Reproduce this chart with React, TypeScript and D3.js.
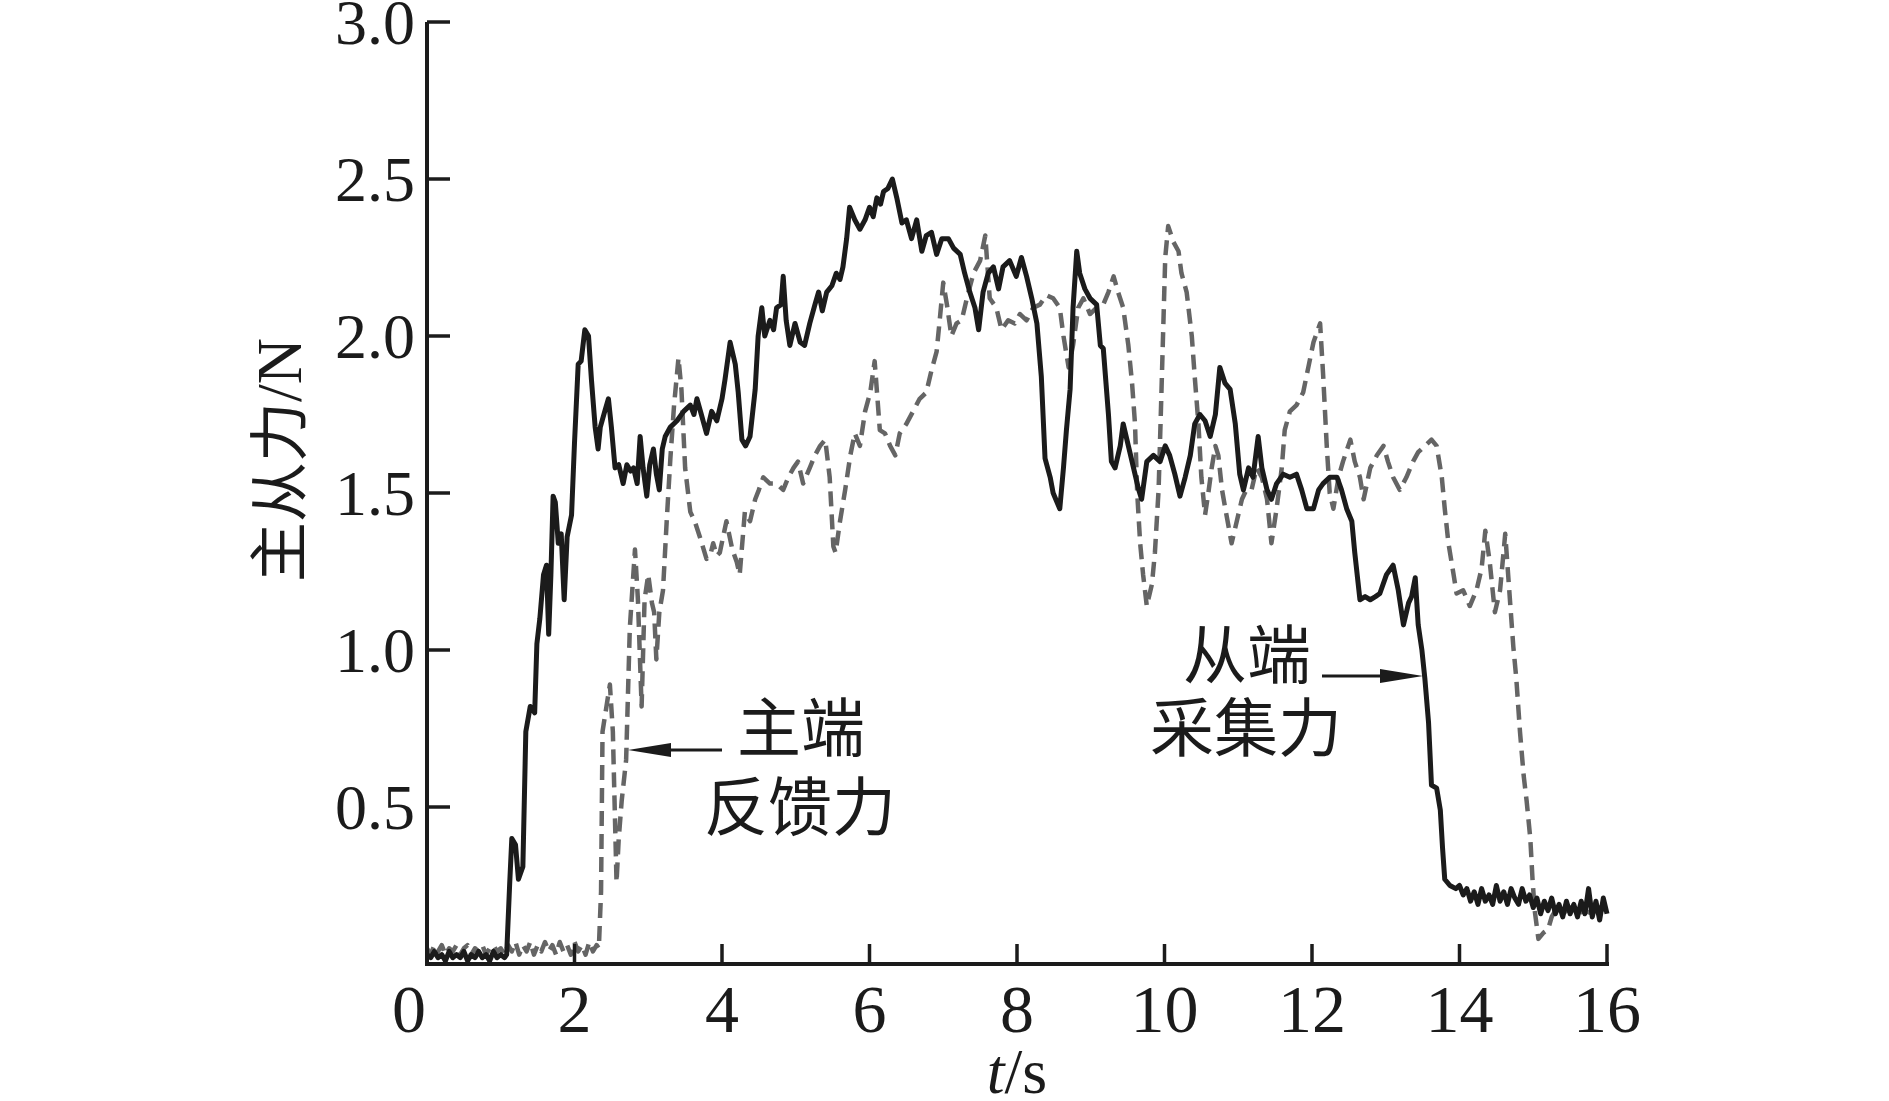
import React from "react";
import * as d3 from "d3";

// ---- data ----
const xTicks = [0, 2, 4, 6, 8, 10, 12, 14, 16];
const yTicks = [0.5, 1.0, 1.5, 2.0, 2.5, 3.0];
const yTickLabels = ["0.5", "1.0", "1.5", "2.0", "2.5", "3.0"];
const xTitle = ["t", "/s"];
const yTitle = ["主从力", "/N"];
const masterLabel = ["主端", "反馈力"];
const slaveLabel = ["从端", "采集力"];

// 从端采集力 (solid black): [t (s), force (N)]
const slaveForce: [number, number][] = [
  [0, 0.03], [0.05, 0.02], [0.1, 0.04], [0.15, 0.02], [0.2, 0.03], [0.25, 0.01], [0.3, 0.04], [0.35, 0.02],
  [0.4, 0.03], [0.45, 0.02], [0.5, 0.04], [0.55, 0.01], [0.6, 0.03], [0.65, 0.02], [0.7, 0.04], [0.75, 0.02],
  [0.8, 0.03], [0.85, 0.01], [0.9, 0.04], [0.95, 0.02], [1.0, 0.03], [1.05, 0.02], [1.08, 0.03],
  [1.12, 0.25], [1.15, 0.4], [1.2, 0.38], [1.24, 0.27], [1.3, 0.31], [1.34, 0.74], [1.4, 0.82], [1.46, 0.8],
  [1.49, 1.02], [1.53, 1.1], [1.58, 1.24], [1.62, 1.27], [1.65, 1.05], [1.68, 1.24], [1.71, 1.49], [1.74, 1.47],
  [1.78, 1.34], [1.82, 1.37], [1.86, 1.16], [1.9, 1.36], [1.96, 1.43], [2.0, 1.66], [2.05, 1.91], [2.09, 1.92],
  [2.14, 2.02], [2.19, 2.0], [2.23, 1.86], [2.28, 1.71], [2.32, 1.64], [2.35, 1.71], [2.41, 1.76], [2.46, 1.8],
  [2.5, 1.71], [2.55, 1.58], [2.6, 1.59], [2.66, 1.53], [2.71, 1.59], [2.76, 1.57], [2.8, 1.58], [2.85, 1.53],
  [2.89, 1.68], [2.93, 1.58], [2.98, 1.49], [3.02, 1.59], [3.07, 1.64], [3.11, 1.56], [3.15, 1.51], [3.19, 1.64],
  [3.23, 1.68], [3.3, 1.71], [3.39, 1.73], [3.48, 1.76], [3.57, 1.78], [3.62, 1.75], [3.66, 1.8], [3.72, 1.75],
  [3.79, 1.69], [3.86, 1.76], [3.93, 1.73], [4.0, 1.8], [4.04, 1.86], [4.11, 1.98], [4.18, 1.91], [4.22, 1.82],
  [4.27, 1.67], [4.32, 1.65], [4.38, 1.68], [4.45, 1.83], [4.49, 2.0], [4.54, 2.09], [4.58, 2.0], [4.65, 2.05],
  [4.7, 2.02], [4.74, 2.09], [4.8, 2.1], [4.83, 2.19], [4.87, 2.05], [4.92, 1.97], [4.99, 2.04], [5.06, 1.98],
  [5.12, 1.97], [5.19, 2.04], [5.26, 2.1], [5.31, 2.14], [5.36, 2.08], [5.42, 2.14], [5.49, 2.16], [5.55, 2.2],
  [5.6, 2.18], [5.64, 2.22], [5.69, 2.31], [5.73, 2.41], [5.8, 2.37], [5.87, 2.34], [5.94, 2.37], [6.0, 2.41],
  [6.05, 2.38], [6.1, 2.44], [6.15, 2.42], [6.19, 2.46], [6.25, 2.47], [6.31, 2.5], [6.37, 2.44], [6.44, 2.36],
  [6.5, 2.37], [6.57, 2.31], [6.64, 2.37], [6.71, 2.27], [6.77, 2.32], [6.84, 2.33], [6.91, 2.26], [6.98, 2.31],
  [7.07, 2.31], [7.14, 2.28], [7.23, 2.26], [7.29, 2.2], [7.36, 2.14], [7.43, 2.09], [7.48, 2.02], [7.54, 2.14],
  [7.61, 2.2], [7.68, 2.22], [7.75, 2.15], [7.81, 2.22], [7.9, 2.24], [7.99, 2.19], [8.06, 2.25], [8.13, 2.19],
  [8.2, 2.12], [8.27, 2.04], [8.33, 1.87], [8.38, 1.61], [8.45, 1.55], [8.49, 1.5], [8.58, 1.45], [8.63, 1.58],
  [8.67, 1.7], [8.72, 1.83], [8.76, 2.09], [8.81, 2.27], [8.85, 2.2], [8.92, 2.15], [8.99, 2.12], [9.08, 2.1],
  [9.13, 1.97], [9.17, 1.96], [9.24, 1.75], [9.28, 1.6], [9.33, 1.58], [9.4, 1.65], [9.44, 1.72], [9.51, 1.65],
  [9.58, 1.58], [9.65, 1.51], [9.69, 1.48], [9.76, 1.6], [9.85, 1.62], [9.94, 1.6], [10.01, 1.65], [10.07, 1.62],
  [10.14, 1.56], [10.21, 1.49], [10.28, 1.55], [10.35, 1.62], [10.41, 1.72], [10.48, 1.75], [10.55, 1.73],
  [10.62, 1.68], [10.69, 1.75], [10.75, 1.9], [10.82, 1.85], [10.89, 1.83], [10.96, 1.72], [11.02, 1.56],
  [11.07, 1.51], [11.14, 1.58], [11.2, 1.55], [11.27, 1.68], [11.32, 1.58], [11.39, 1.51], [11.45, 1.48],
  [11.52, 1.53], [11.61, 1.56], [11.7, 1.55], [11.79, 1.56], [11.86, 1.51], [11.93, 1.45], [12.02, 1.45],
  [12.09, 1.51], [12.15, 1.53], [12.24, 1.55], [12.34, 1.55], [12.4, 1.51], [12.47, 1.45], [12.54, 1.41],
  [12.58, 1.31], [12.65, 1.16], [12.72, 1.17], [12.79, 1.16], [12.86, 1.17], [12.92, 1.18], [13.01, 1.24],
  [13.1, 1.27], [13.17, 1.19], [13.24, 1.08], [13.31, 1.15], [13.35, 1.17], [13.4, 1.23], [13.44, 1.08],
  [13.49, 1.0], [13.53, 0.91], [13.58, 0.77], [13.62, 0.57], [13.69, 0.56], [13.74, 0.49], [13.77, 0.37],
  [13.8, 0.27], [13.87, 0.25], [13.95, 0.24], [14.0, 0.25], [14.05, 0.22], [14.1, 0.24], [14.15, 0.2],
  [14.2, 0.23], [14.25, 0.19], [14.3, 0.24], [14.35, 0.2], [14.4, 0.22], [14.45, 0.19], [14.5, 0.25],
  [14.55, 0.2], [14.6, 0.23], [14.65, 0.19], [14.7, 0.24], [14.75, 0.21], [14.8, 0.19], [14.85, 0.24],
  [14.9, 0.2], [14.95, 0.22], [15.0, 0.18], [15.05, 0.21], [15.1, 0.16], [15.15, 0.2], [15.2, 0.17],
  [15.25, 0.21], [15.3, 0.16], [15.35, 0.19], [15.4, 0.15], [15.45, 0.2], [15.5, 0.16], [15.55, 0.19],
  [15.6, 0.15], [15.65, 0.2], [15.7, 0.16], [15.75, 0.24], [15.8, 0.15], [15.85, 0.2], [15.9, 0.14],
  [15.95, 0.21], [16.0, 0.16],
];

// 主端反馈力 (dashed grey): [t (s), force (N)]
const masterForce: [number, number][] = [
  [0, 0.05], [0.05, 0.03], [0.1, 0.06], [0.15, 0.04], [0.2, 0.06], [0.25, 0.03], [0.3, 0.05], [0.35, 0.04],
  [0.4, 0.06], [0.45, 0.03], [0.5, 0.05], [0.55, 0.06], [0.6, 0.03], [0.65, 0.05], [0.7, 0.04], [0.75, 0.06],
  [0.8, 0.03], [0.85, 0.05], [0.9, 0.06], [0.95, 0.04], [1.0, 0.05], [1.05, 0.03], [1.1, 0.06], [1.15, 0.04],
  [1.2, 0.07], [1.25, 0.03], [1.3, 0.06], [1.35, 0.04], [1.4, 0.07], [1.45, 0.03], [1.5, 0.06], [1.55, 0.04],
  [1.6, 0.07], [1.65, 0.04], [1.7, 0.06], [1.75, 0.03], [1.8, 0.07], [1.85, 0.04], [1.9, 0.06], [1.95, 0.03],
  [2.0, 0.07], [2.05, 0.04], [2.1, 0.06], [2.15, 0.03], [2.2, 0.07], [2.25, 0.04], [2.3, 0.06], [2.33, 0.05],
  [2.36, 0.23], [2.38, 0.74], [2.42, 0.8], [2.48, 0.89], [2.52, 0.74], [2.57, 0.26], [2.6, 0.4], [2.64, 0.52],
  [2.7, 0.65], [2.75, 1.07], [2.82, 1.32], [2.86, 1.16], [2.91, 0.82], [2.95, 1.16], [3.0, 1.24], [3.05, 1.15],
  [3.08, 1.12], [3.11, 0.97], [3.15, 1.12], [3.2, 1.19], [3.25, 1.41], [3.3, 1.61], [3.35, 1.78], [3.41, 1.93],
  [3.45, 1.83], [3.5, 1.58], [3.57, 1.44], [3.63, 1.41], [3.7, 1.36], [3.79, 1.29], [3.84, 1.3], [3.88, 1.34],
  [3.93, 1.3], [3.97, 1.31], [4.06, 1.41], [4.14, 1.32], [4.2, 1.28], [4.24, 1.24], [4.31, 1.44], [4.38, 1.41],
  [4.45, 1.48], [4.5, 1.51], [4.56, 1.55], [4.65, 1.53], [4.74, 1.53], [4.83, 1.51], [4.9, 1.55], [4.97, 1.58],
  [5.03, 1.6], [5.1, 1.53], [5.19, 1.58], [5.26, 1.62], [5.33, 1.65], [5.4, 1.67], [5.46, 1.55], [5.51, 1.33],
  [5.54, 1.31], [5.6, 1.41], [5.67, 1.51], [5.74, 1.62], [5.8, 1.69], [5.87, 1.65], [5.94, 1.76], [6.01, 1.82],
  [6.07, 1.92], [6.14, 1.7], [6.21, 1.69], [6.28, 1.65], [6.35, 1.62], [6.41, 1.69], [6.5, 1.72], [6.59, 1.76],
  [6.68, 1.8], [6.77, 1.82], [6.84, 1.89], [6.91, 1.95], [6.96, 2.07], [7.0, 2.17], [7.05, 2.1], [7.11, 2.0],
  [7.18, 2.04], [7.25, 2.05], [7.32, 2.12], [7.41, 2.2], [7.5, 2.24], [7.57, 2.32], [7.63, 2.12], [7.72, 2.09],
  [7.79, 2.02], [7.88, 2.05], [7.97, 2.04], [8.04, 2.07], [8.13, 2.05], [8.22, 2.09], [8.31, 2.1], [8.4, 2.13],
  [8.49, 2.12], [8.58, 2.09], [8.63, 2.0], [8.7, 1.9], [8.76, 1.97], [8.83, 2.09], [8.9, 2.12], [8.99, 2.07],
  [9.08, 2.09], [9.17, 2.1], [9.24, 2.14], [9.31, 2.19], [9.37, 2.14], [9.44, 2.09], [9.51, 1.97], [9.56, 1.85],
  [9.6, 1.72], [9.63, 1.5], [9.67, 1.34], [9.71, 1.24], [9.76, 1.14], [9.83, 1.21], [9.87, 1.31], [9.92, 1.51],
  [9.95, 1.75], [9.98, 2.0], [10.01, 2.25], [10.05, 2.35], [10.12, 2.3], [10.19, 2.27], [10.23, 2.2],
  [10.3, 2.14], [10.37, 2.0], [10.41, 1.87], [10.46, 1.72], [10.5, 1.55], [10.55, 1.43], [10.6, 1.51],
  [10.64, 1.58], [10.69, 1.65], [10.73, 1.62], [10.78, 1.51], [10.84, 1.43], [10.91, 1.34], [10.98, 1.41],
  [11.05, 1.48], [11.11, 1.51], [11.18, 1.51], [11.25, 1.58], [11.32, 1.55], [11.39, 1.48], [11.45, 1.34],
  [11.52, 1.45], [11.59, 1.58], [11.63, 1.7], [11.7, 1.76], [11.79, 1.78], [11.88, 1.82], [11.95, 1.9],
  [12.02, 1.98], [12.11, 2.04], [12.15, 1.88], [12.2, 1.65], [12.24, 1.5], [12.29, 1.45], [12.36, 1.55],
  [12.42, 1.6], [12.52, 1.67], [12.58, 1.6], [12.65, 1.55], [12.7, 1.48], [12.79, 1.58], [12.88, 1.62],
  [12.97, 1.65], [13.03, 1.6], [13.1, 1.55], [13.19, 1.51], [13.28, 1.55], [13.37, 1.6], [13.44, 1.63],
  [13.53, 1.65], [13.62, 1.67], [13.69, 1.65], [13.76, 1.55], [13.8, 1.45], [13.85, 1.34], [13.92, 1.24],
  [13.96, 1.18], [14.05, 1.19], [14.14, 1.14], [14.23, 1.19], [14.3, 1.26], [14.35, 1.38], [14.41, 1.28],
  [14.48, 1.12], [14.55, 1.19], [14.62, 1.37], [14.69, 1.14], [14.73, 1.01], [14.77, 0.91], [14.82, 0.74],
  [14.87, 0.6], [14.91, 0.52], [14.96, 0.4], [14.99, 0.27], [15.02, 0.17], [15.07, 0.08], [15.14, 0.1],
  [15.2, 0.11], [15.25, 0.15], [15.3, 0.17], [15.4, 0.16], [15.5, 0.18], [15.6, 0.16], [15.7, 0.17],
  [15.8, 0.16], [15.9, 0.18], [16.0, 0.17],
];

// ---- layout ----
const W = 1889;
const H = 1101;
const X0 = 427, X1 = 1607, Y0 = 964, Y1 = 22;
const serif = "'Liberation Serif', 'Times New Roman', serif";
const cjk = "'Noto Sans CJK SC', sans-serif";

export default function App() {
  const x = d3.scaleLinear().domain([0, 16]).range([X0, X1]);
  const y = d3.scaleLinear().domain([0, 3]).range([Y0, Y1]);
  const line = d3
    .line<[number, number]>()
    .x((d) => x(d[0]))
    .y((d) => y(d[1]));

  return (
    <svg
      width={W}
      height={H}
      viewBox={`0 0 ${W} ${H}`}
      style={{ position: "absolute", left: 0, top: 0, background: "#fff" }}
    >
      <rect x={0} y={0} width={W} height={H} fill="#fff" />
      {/* series */}
      <path
        d={line(masterForce) || ""}
        fill="none"
        stroke="#656565"
        strokeWidth={4.5}
        strokeDasharray="15,8"
        strokeLinejoin="round"
      />
      <path
        d={line(slaveForce) || ""}
        fill="none"
        stroke="#1b1b1b"
        strokeWidth={5}
        strokeLinejoin="round"
      />

      {/* axes */}
      <line x1={X0} y1={y(3)} x2={X0} y2={Y0 + 2} stroke="#1b1b1b" strokeWidth={4} />
      <line x1={X0 - 2} y1={Y0} x2={X1 + 2} y2={Y0} stroke="#1b1b1b" strokeWidth={4} />
      {yTicks.map((v, i) => (
        <g key={"yt" + v}>
          <line x1={X0} x2={X0 + 23} y1={y(v)} y2={y(v)} stroke="#1b1b1b" strokeWidth={3.5} />
          <text
            x={X0 - 12}
            y={y(v) + 22}
            textAnchor="end"
            fontFamily={serif}
            fontSize={64}
            fill="#1b1b1b"
          >
            {yTickLabels[i]}
          </text>
        </g>
      ))}
      {xTicks.map((v, i) => (
        <g key={"xt" + v}>
          {v > 0 && (
            <line x1={x(v)} x2={x(v)} y1={Y0} y2={Y0 - 20} stroke="#1b1b1b" strokeWidth={3.5} />
          )}
          <text
            x={x(v) + (i === 0 ? -18 : 0)}
            y={1032}
            textAnchor="middle"
            fontFamily={serif}
            fontSize={68}
            fill="#1b1b1b"
          >
            {v}
          </text>
        </g>
      ))}

      {/* axis titles */}
      <text x={1017} y={1093} textAnchor="middle" fontFamily={serif} fontSize={64} fill="#1b1b1b">
        <tspan fontStyle="italic">{xTitle[0]}</tspan>
        <tspan>{xTitle[1]}</tspan>
      </text>
      <text
        transform="translate(301,460) rotate(-90)"
        textAnchor="middle"
        fontSize={60}
        fill="#1b1b1b"
      >
        <tspan fontFamily={cjk}>{yTitle[0]}</tspan>
        <tspan fontFamily={serif} fontSize={64}>{yTitle[1]}</tspan>
      </text>

      {/* annotations */}
      <g fontFamily={cjk} fontSize={64} fill="#1b1b1b" textAnchor="middle">
        <text x={801} y={723} dominantBaseline="central">{masterLabel[0]}</text>
        <text x={800} y={802} dominantBaseline="central">{masterLabel[1]}</text>
        <text x={1247} y={650} dominantBaseline="central">{slaveLabel[0]}</text>
        <text x={1246} y={723} dominantBaseline="central">{slaveLabel[1]}</text>
      </g>
      {/* arrows */}
      <line x1={722} y1={750} x2={665} y2={750} stroke="#1b1b1b" strokeWidth={3} />
      <path d="M628,750 L671,743 L671,757 Z" fill="#1b1b1b" />
      <line x1={1322} y1={676} x2={1385} y2={676} stroke="#1b1b1b" strokeWidth={3} />
      <path d="M1423,676 L1380,669 L1380,683 Z" fill="#1b1b1b" />
    </svg>
  );
}
